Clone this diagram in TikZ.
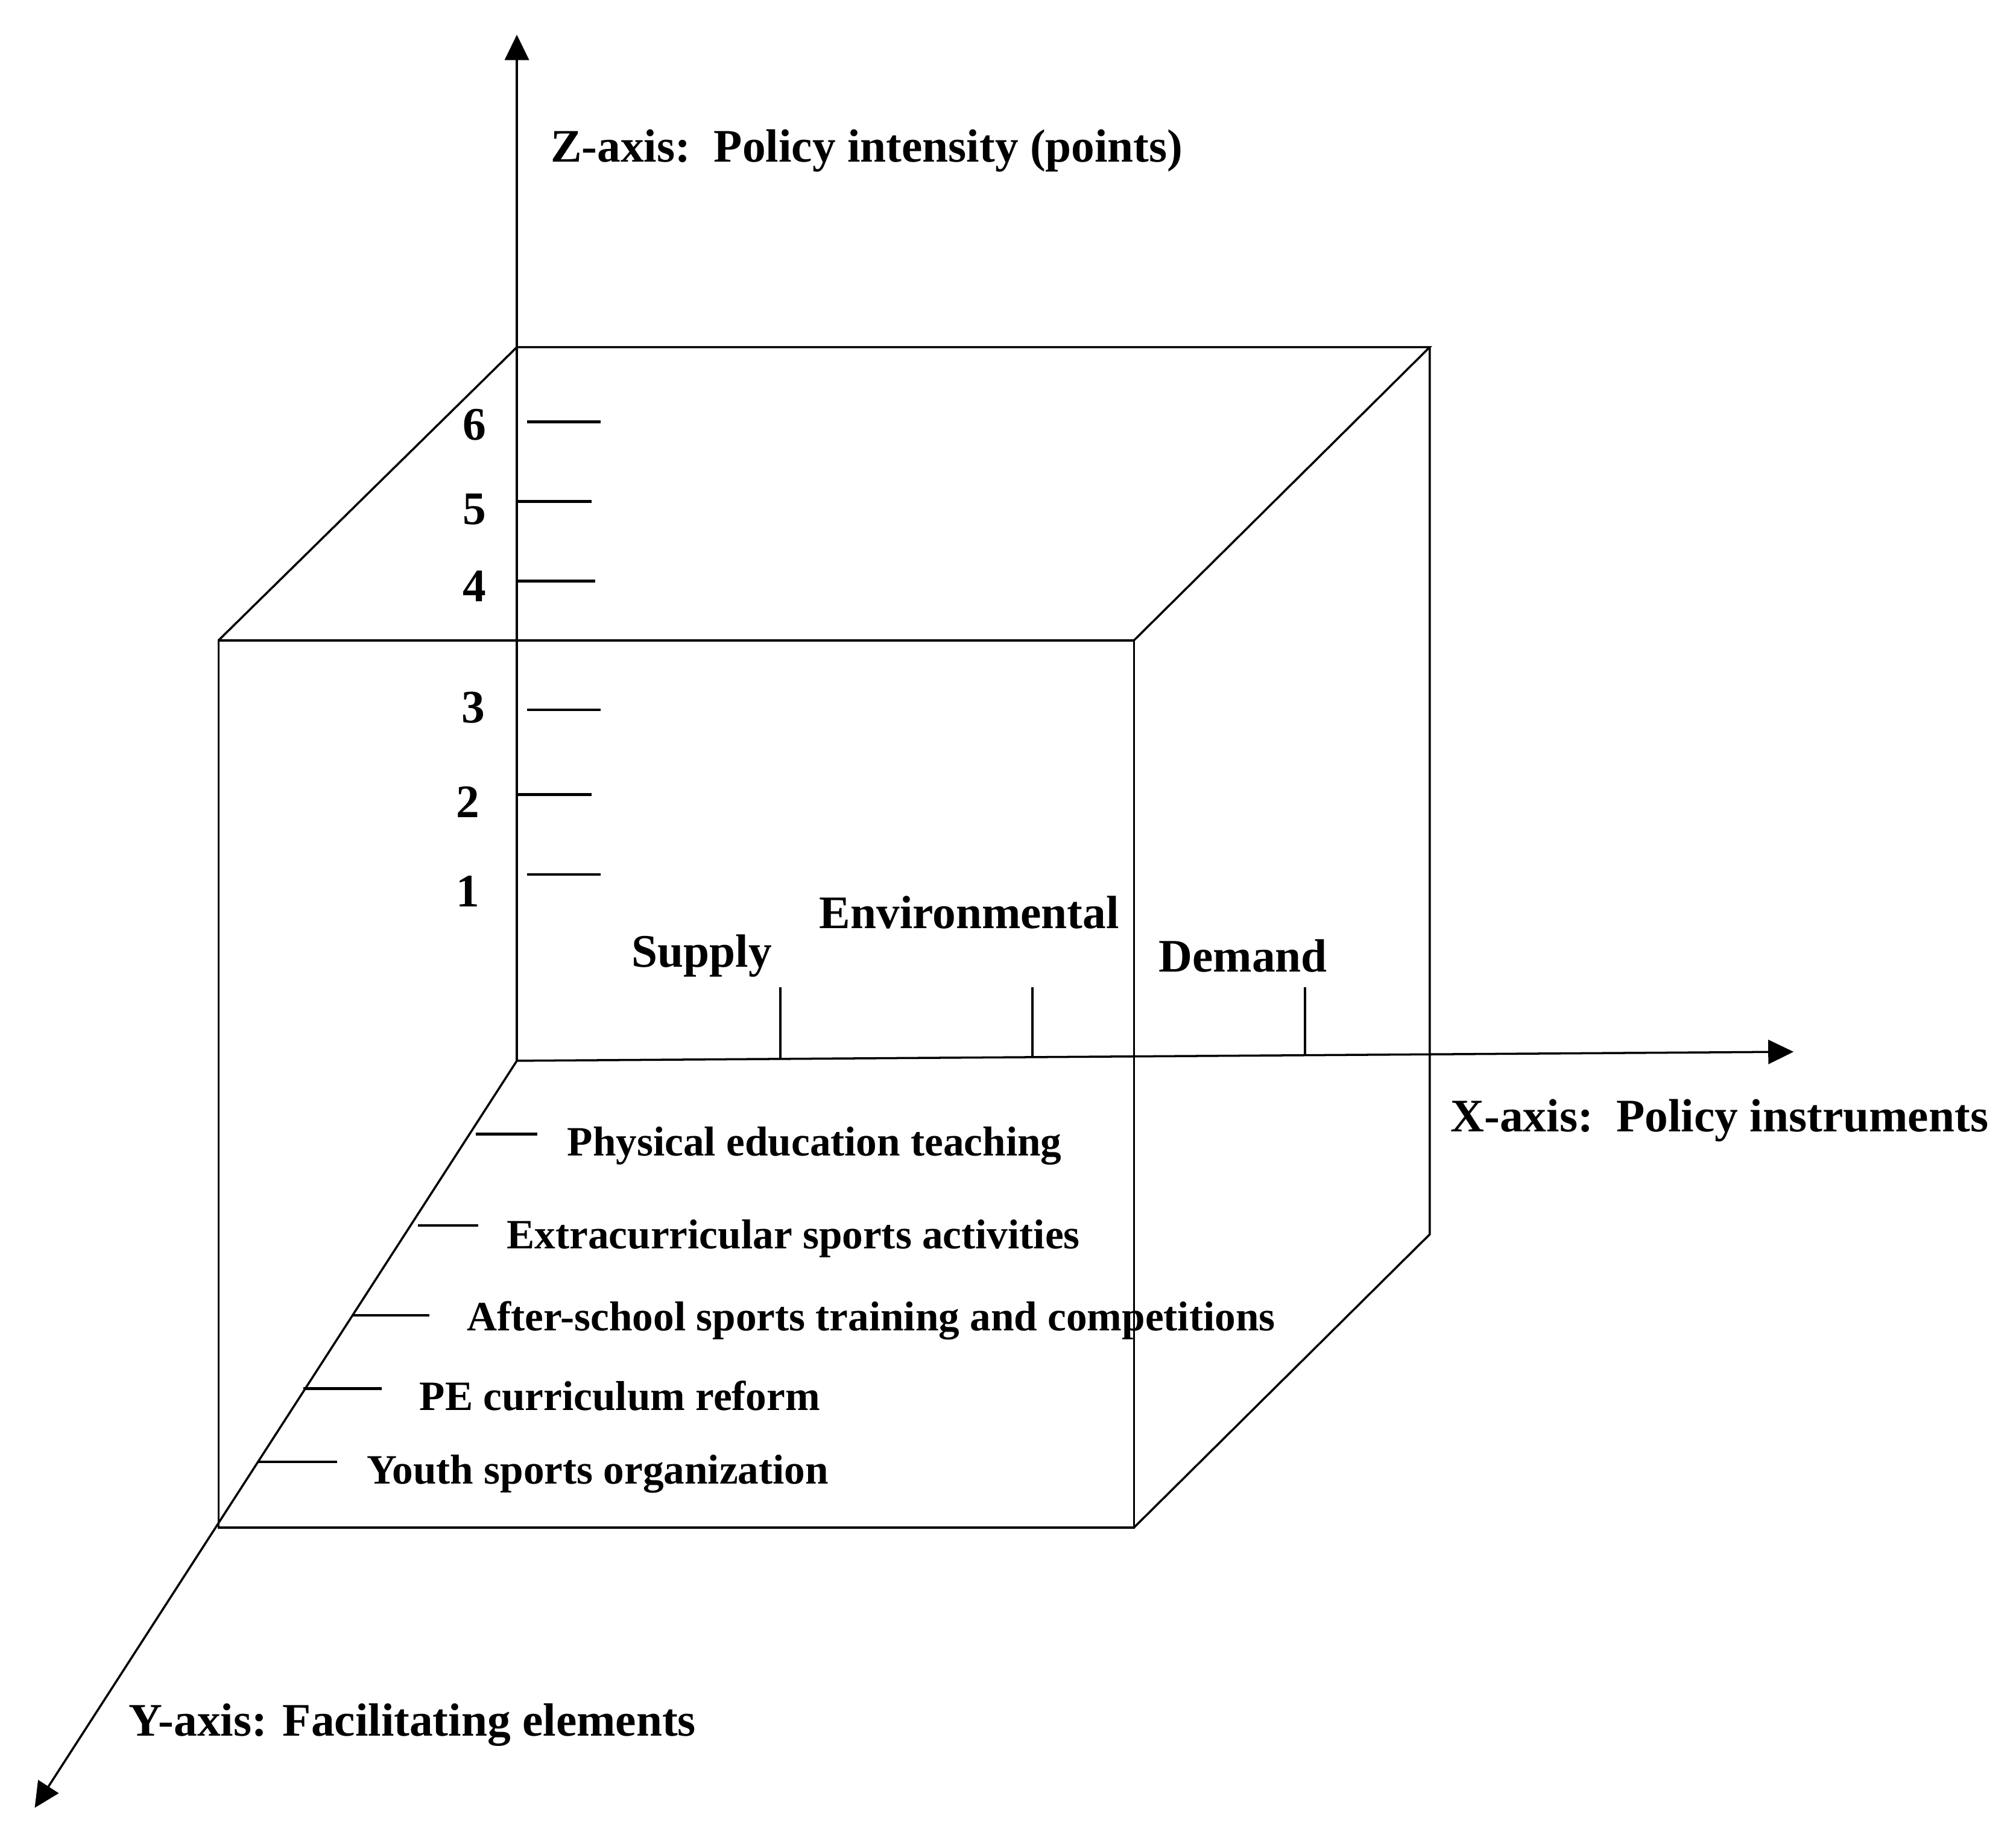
\documentclass[tikz,border=0pt]{standalone}
\usepackage{fontspec}
\setmainfont{Liberation Serif}
\usetikzlibrary{arrows.meta}
\begin{document}
\begin{tikzpicture}[x=0.02132cm,y=-0.02132cm,
  edge/.style={line width=1pt,black},
  tick/.style={line width=1.3pt,black},
  axis/.style={line width=1pt,-{Triangle[length=0.42cm,width=0.40cm]}},
  big/.style={font=\bfseries\fontsize{22}{26}\selectfont,inner sep=0pt,anchor=base west},
  small/.style={font=\bfseries\fontsize{19.7}{24}\selectfont,inner sep=0pt,anchor=base west},
  num/.style={font=\bfseries\fontsize{22}{26}\selectfont,inner sep=0pt,anchor=base}]
\useasboundingbox (0,0) rectangle (1568,1433);
% axes
\coordinate (O) at (402,825);
\coordinate (Ztip) at (402,27);
\coordinate (Xtip) at (1395,818);
\coordinate (Ytip) at (27,1406);
\draw[axis] (O) -- (Ztip);
\draw[axis] (O) -- (Xtip);
\draw[axis] (O) -- (Ytip);
% cube
\coordinate (BTL) at (402,270);
\coordinate (BTR) at (1112,270);
\coordinate (BBR) at (1112,960);
\coordinate (FTL) at (170,498);
\coordinate (FTR) at (882,498);
\coordinate (FBR) at (882,1188);
\coordinate (FBL) at (170,1188);
\draw[edge] (FTL) -- (FTR) -- (FBR) -- (FBL) -- cycle;
\draw[edge] (FTL) -- (BTL) -- (BTR) -- (FTR);
\draw[edge] (BTR) -- (BBR) -- (FBR);
% z ticks
\draw[tick] (410,328) -- (467,328);
\draw[tick] (402,390) -- (460,390);
\draw[tick] (402,452) -- (463,452);
\draw[tick] (410,552) -- (467,552);
\draw[tick] (402,618) -- (460,618);
\draw[tick] (410,680) -- (467,680);
\node[num] (n6) at (369,342) {6};
\node[num] (n5) at (369,408) {5};
\node[num] (n4) at (369,468) {4};
\node[num] (n3) at (368,562) {3};
\node[num] (n2) at (364,636) {2};
\node[num] (n1) at (364,705) {1};
% x ticks
\draw[tick] (607,768) -- (607,823);
\draw[tick] (803,768) -- (803,822);
\draw[tick] (1015,768) -- (1015,821);
\node[big] (sup) at (491,752) {Supply};
\node[big] (env) at (637,722) {Environmental};
\node[big] (dem) at (901,756) {Demand};
% y ticks
\draw[tick] (370,882) -- (418,882);
\draw[tick] (325,953) -- (372,953);
\draw[tick] (275,1023) -- (334,1023);
\draw[tick] (236,1080) -- (297,1080);
\draw[tick] (201,1137) -- (262,1137);
\node[small] (y1) at (441,899) {Physical education teaching};
\node[small] (y2) at (394,971) {Extracurricular sports activities};
\node[small] (y3) at (363,1035) {After-school sports training and competitions};
\node[small] (y4) at (326,1097) {PE curriculum reform};
\node[small] (y5) at (285,1154) {Youth sports organization};
% axis labels
\node[big] (zlab) at (428,126) {Z-axis:\ \ Policy intensity (points)};
\node[big] (xlab) at (1128,880) {X-axis:\ \ Policy instruments};
\node[big] (ylab) at (100,1350) {Y-axis: Facilitating elements};
\end{tikzpicture}
\end{document}
